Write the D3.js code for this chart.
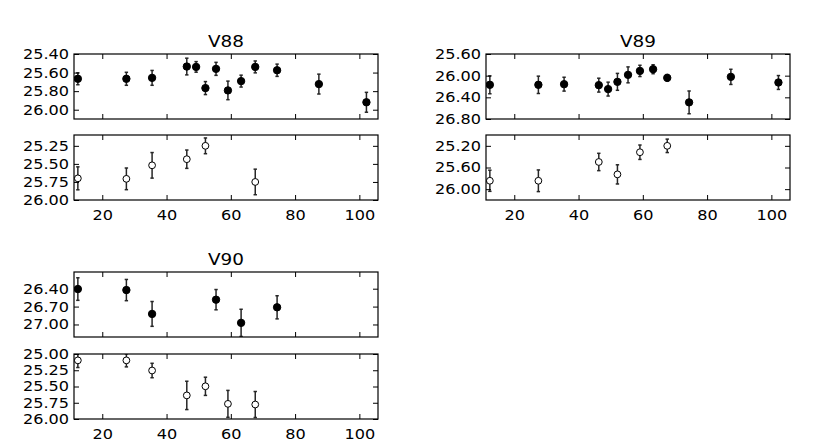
<!DOCTYPE html>
<html>
<head>
<meta charset="utf-8">
<script src="https://cdnjs.cloudflare.com/ajax/libs/d3/7.8.5/d3.min.js"></script>
<style>
  body { margin: 0; background: #fff; }
  text { font-family: "DejaVu Sans", sans-serif; fill: #000; }
</style>
</head>
<body>
<script>
// 观测历元（天）
const epochs = [12.4, 27.5, 35.5, 46.3, 49.2, 52.1, 55.4, 59.1, 63.2, 67.6, 74.4, 87.4, 102.2];
const xTicks = [20, 40, 60, 80, 100];

// V88 实心点（上）与空心点（下）
const v88FilledX = epochs;
const v88FilledMag = [25.667, 25.667, 25.657, 25.535, 25.539, 25.767, 25.56, 25.792, 25.692, 25.539, 25.575, 25.724, 25.92];
const v88FilledErr = [0.064, 0.07, 0.08, 0.09, 0.057, 0.07, 0.07, 0.1, 0.064, 0.064, 0.066, 0.107, 0.107];
const v88OpenX = [12.4, 27.5, 35.5, 46.3, 52.1, 67.6];
const v88OpenMag = [25.70, 25.707, 25.52, 25.435, 25.25, 25.75];
const v88OpenErr = [0.159, 0.15, 0.177, 0.127, 0.109, 0.177];

// V89
const v89FilledX = epochs;
const v89FilledMag = [26.169, 26.169, 26.157, 26.175, 26.248, 26.114, 25.985, 25.912, 25.881, 26.04, 26.493, 26.022, 26.126];
const v89FilledErr = [0.165, 0.16, 0.128, 0.128, 0.128, 0.156, 0.147, 0.104, 0.083, 0.06, 0.21, 0.14, 0.128];
const v89OpenX = [12.4, 27.5, 46.3, 52.1, 59.1, 67.6];
const v89OpenMag = [25.845, 25.845, 25.498, 25.727, 25.318, 25.2];
const v89OpenErr = [0.195, 0.2, 0.16, 0.177, 0.133, 0.124];

// V90
const v90FilledX = [12.4, 27.5, 35.5, 55.4, 63.2, 74.4];
const v90FilledMag = [26.406, 26.423, 26.823, 26.584, 26.973, 26.712];
const v90FilledErr = [0.189, 0.178, 0.208, 0.17, 0.228, 0.194];
const v90OpenX = [12.4, 27.5, 35.5, 46.3, 52.1, 59.1, 67.6];
const v90OpenMag = [25.098, 25.098, 25.254, 25.637, 25.497, 25.767, 25.777];
const v90OpenErr = [0.11, 0.1, 0.111, 0.218, 0.14, 0.207, 0.2];

// Y 轴刻度
const v88TopTicks = [25.4, 25.6, 25.8, 26.0];
const v88BotTicks = [25.25, 25.5, 25.75, 26.0];
const v89TopTicks = [25.6, 26.0, 26.4, 26.8];
const v89BotTicks = [25.2, 25.6, 26.0];
const v90TopTicks = [26.4, 26.7, 27.0];
const v90BotTicks = [25.0, 25.25, 25.5, 25.75, 26.0];

const width = 840, height = 448;
const stretch = 1.15; // 原图文字横向略宽
const panelW = 304, panelH = 65;

const svg = d3.select("body").append("svg")
    .attr("width", width)
    .attr("height", height);

svg.append("rect").attr("width", width).attr("height", height).attr("fill", "#fff");

let clipId = 0;

// 画一个子面板
function drawPanel(left, top, yDomain, yTicks, xs, mags, errs, filled, showX) {
    const x = d3.scaleLinear().domain([11.2, 105.8]).range([0, panelW]);
    const y = d3.scaleLinear().domain(yDomain).range([0, panelH]); // 星等轴反向

    const g = svg.append("g").attr("transform", `translate(${left},${top})`);
    const id = "clip" + (clipId++);
    g.append("clipPath").attr("id", id)
        .append("rect").attr("width", panelW).attr("height", panelH);

    const pts = xs.map((d, i) => ({ x: d, m: mags[i], e: errs[i] }));
    const marks = g.append("g").attr("clip-path", `url(#${id})`);

    // 误差棒
    const eb = marks.selectAll("g.eb").data(pts).enter().append("g")
        .attr("stroke", "#262626").attr("stroke-width", 1.5);
    eb.append("line")
        .attr("x1", d => x(d.x)).attr("x2", d => x(d.x))
        .attr("y1", d => y(d.m - d.e)).attr("y2", d => y(d.m + d.e));
    eb.append("line")
        .attr("x1", d => x(d.x) - 1.7).attr("x2", d => x(d.x) + 1.7)
        .attr("y1", d => y(d.m - d.e)).attr("y2", d => y(d.m - d.e));
    eb.append("line")
        .attr("x1", d => x(d.x) - 1.7).attr("x2", d => x(d.x) + 1.7)
        .attr("y1", d => y(d.m + d.e)).attr("y2", d => y(d.m + d.e));

    // 数据点
    marks.selectAll("circle").data(pts).enter().append("circle")
        .attr("cx", d => x(d.x)).attr("cy", d => y(d.m))
        .attr("r", filled ? 3.7 : 3.4)
        .attr("fill", filled ? "#000" : "#fff")
        .attr("stroke", "#000").attr("stroke-width", 1);

    // 刻度（朝内，四边都有）
    const left_ = g.append("g").call(d3.axisLeft(y).tickValues(yTicks)
        .tickFormat(d3.format(".2f")).tickSizeInner(-5).tickSizeOuter(0).tickPadding(5));
    const right_ = g.append("g").attr("transform", `translate(${panelW},0)`)
        .call(d3.axisRight(y).tickValues(yTicks).tickFormat("").tickSizeInner(-5).tickSizeOuter(0));
    const top_ = g.append("g")
        .call(d3.axisTop(x).tickValues(xTicks).tickFormat("").tickSizeInner(-5).tickSizeOuter(0));
    const bot_ = g.append("g").attr("transform", `translate(0,${panelH})`)
        .call(d3.axisBottom(x).tickValues(xTicks).tickFormat(showX ? d3.format("d") : "")
            .tickSizeInner(-5).tickSizeOuter(0).tickPadding(10));

    [left_, right_, top_, bot_].forEach(a => {
        a.select(".domain").remove();
        a.selectAll("line").attr("stroke", "#000").attr("stroke-width", 1);
        a.selectAll("text").attr("font-size", 14).attr("font-family", "DejaVu Sans")
            .attr("fill", "#000");
    });
    left_.selectAll("text")
        .attr("x", -5 / stretch)
        .attr("transform", `scale(${stretch},1)`);
    bot_.selectAll("text").attr("transform", `scale(${stretch},1)`);

    // 边框
    g.append("rect").attr("width", panelW).attr("height", panelH)
        .attr("fill", "none").attr("stroke", "#000").attr("stroke-width", 1.2);
    return g;
}

function drawTitle(left, top, label) {
    svg.append("g")
        .attr("transform", `translate(${left + panelW / 2},${top - 7.5}) scale(${stretch},1)`)
        .append("text")
        .attr("text-anchor", "middle")
        .attr("font-size", 16)
        .text(label);
}

// V88
drawTitle(74, 54, "V88");
drawPanel(74, 54, [25.4, 26.1], v88TopTicks, v88FilledX, v88FilledMag, v88FilledErr, true, false);
drawPanel(74, 135, [25.1, 26.0], v88BotTicks, v88OpenX, v88OpenMag, v88OpenErr, false, true);

// V89
drawTitle(486, 54, "V89");
drawPanel(486, 54, [25.6, 26.8], v89TopTicks, v89FilledX, v89FilledMag, v89FilledErr, true, false);
drawPanel(486, 135, [25.0, 26.2], v89BotTicks, v89OpenX, v89OpenMag, v89OpenErr, false, true);

// V90
drawTitle(74, 272, "V90");
drawPanel(74, 272, [26.12, 27.21], v90TopTicks, v90FilledX, v90FilledMag, v90FilledErr, true, false);
drawPanel(74, 354, [25.0, 26.0], v90BotTicks, v90OpenX, v90OpenMag, v90OpenErr, false, true);
</script>
</body>
</html>
